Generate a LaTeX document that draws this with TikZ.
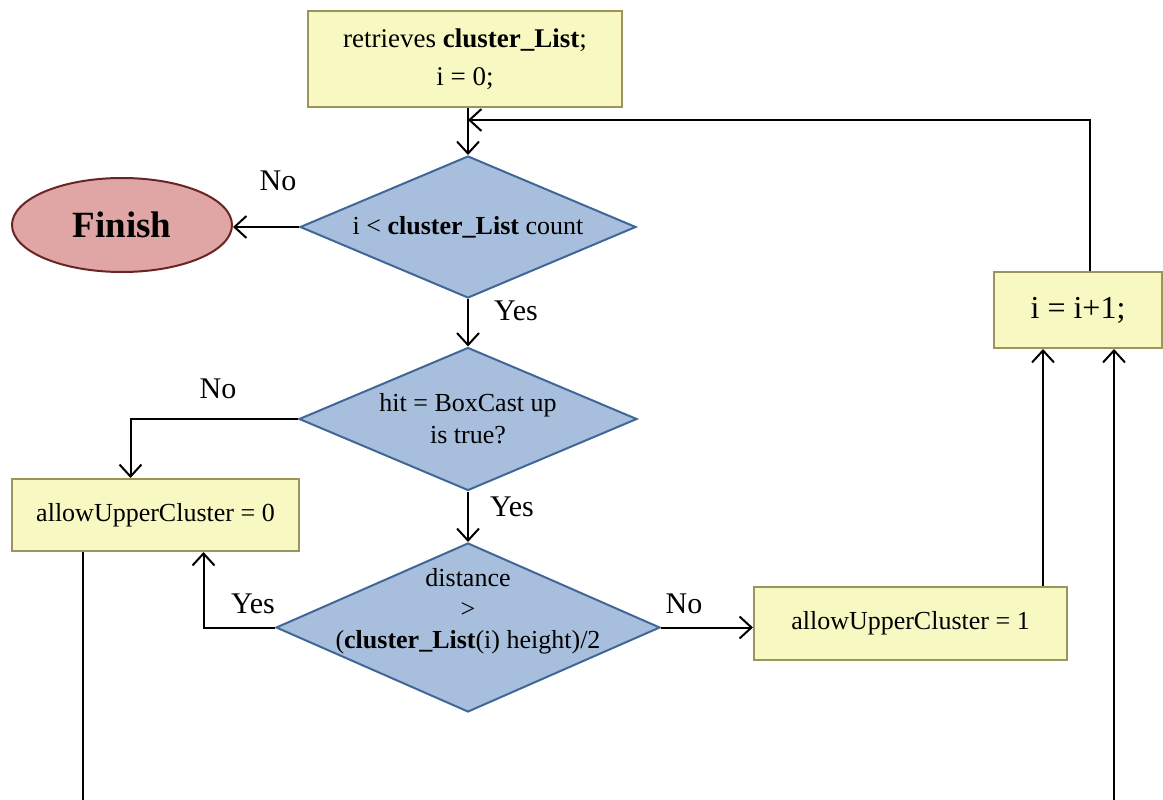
\documentclass[tikz,border=0pt]{standalone}
\usepackage{fontspec}
\setmainfont{Liberation Serif}
\usetikzlibrary{shapes.geometric,arrows.meta}
\definecolor{boxfill}{HTML}{F8F8C2}
\definecolor{boxline}{HTML}{9C9458}
\definecolor{decfill}{HTML}{A7BFDD}
\definecolor{decline}{HTML}{3F6797}
\definecolor{endfill}{HTML}{E0A6A6}
\definecolor{endline}{HTML}{6B2424}
\begin{document}
\begin{tikzpicture}[x=1pt,y=-1pt,
  procbox/.style={rectangle, draw=boxline, fill=boxfill, line width=2pt, inner sep=0pt,
    align=center, font=\fontsize{26}{38}\selectfont},
  decision/.style={diamond, draw=decline, fill=decfill, line width=2pt, inner sep=0pt,
    align=center, font=\fontsize{26}{32}\selectfont},
  dectext/.style={align=center, inner sep=0pt, font=\fontsize{26}{31}\selectfont},
  terminal/.style={ellipse, draw=endline, fill=endfill, line width=2pt, inner sep=0pt,
    font=\fontsize{37}{44}\selectfont\bfseries},
  flow/.style={line width=2pt, -{Straight Barb[length=12pt,width=22pt,line width=2pt]}},
  plainline/.style={line width=2pt},
  answer/.style={inner sep=0pt, font=\fontsize{30}{30}\selectfont}
]
\useasboundingbox (0,0) rectangle (1163,800);

% process boxes
\node[procbox, minimum width=314, minimum height=96, font=\fontsize{27}{38}\selectfont] (start) at (465,59)
  {retrieves \textbf{cluster\_List};\\ i = 0;};
\node[procbox, minimum width=287, minimum height=72] (zero) at (155.5,515)
  {allowUpperCluster = 0};
\node[procbox, minimum width=313, minimum height=73] (one) at (910.5,623.5)
  {allowUpperCluster = 1};
\node[procbox, minimum width=168, minimum height=76, font=\fontsize{32}{36}\selectfont] (inc) at (1078,310)
  {i = i+1;};

% terminal
\node[terminal, minimum width=220, minimum height=94] (finish) at (122,225) {Finish};

% decisions
\node[decision, aspect=2.37, minimum width=336, minimum height=142] (d1) at (468,227)
  {i < \textbf{cluster\_List} count};
\node[decision, aspect=2.36, minimum width=338, minimum height=143] (d2) at (468,419)
  {hit = BoxCast up\\ is true?};
\node[decision, aspect=2.27, minimum width=384, minimum height=169] (d3) at (468,627.5) {};
\node[dectext] (d3text) at (468,611)
  {distance\\ >\\ (\textbf{cluster\_List}(i) height)/2};

% answer labels
\node[answer] (no1) at (278,181) {No};
\node[answer] (yes1) at (516,311) {Yes};
\node[answer] (no2) at (218,389) {No};
\node[answer] (yes2) at (512,507) {Yes};
\node[answer] (yes3) at (253,604) {Yes};
\node[answer] (no3) at (684,604) {No};

% helper points for the loop lines
\coordinate (loopcorner) at ([xshift=12]inc.north |- 0,120);
\coordinate (incL) at ([xshift=-35]inc.south);
\coordinate (incR) at ([xshift=36]inc.south);
\coordinate (loopIn) at (incR |- 0,800);
\coordinate (zeroOut) at ([xshift=-73]zero.south |- 0,800);

% connectors
\draw[flow] (d1.north |- start.south) -- (d1.north);
\draw[flow] (inc.north -| loopcorner) -- (loopcorner) -- (loopcorner -| d1.north);
\draw[flow] (d1.west) -- (d1.west -| finish.east);
\draw[flow] (d1.south) -- (d2.north);
\draw[flow] (d2.west) -| ([xshift=-25]zero.north);
\draw[flow] (d2.south) -- (d3.north);
\draw[flow] (d3.west) -| ([xshift=48]zero.south);
\draw[flow] (d3.east) -- (d3.east -| one.west);
\draw[flow] (incL |- one.north) -- (incL);
\draw[flow] (loopIn) -- (incR);
\draw[plainline] ([xshift=-73]zero.south) -- (zeroOut);
\end{tikzpicture}
\end{document}
